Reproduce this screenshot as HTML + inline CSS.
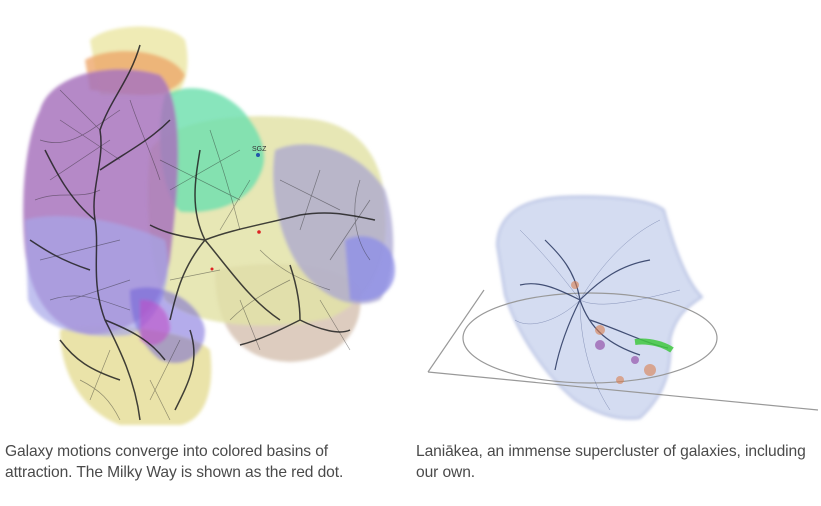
<!DOCTYPE html>
<html><head><meta charset="utf-8"><style>
html,body{margin:0;padding:0;background:#fff;width:821px;height:506px;overflow:hidden;position:relative}
svg{position:absolute;left:0;top:0}
.c{position:absolute;font-family:"Liberation Sans",sans-serif;font-size:15.6px;color:#4a4a4a;line-height:21px;letter-spacing:-0.1px;white-space:nowrap}
</style></head><body>
<svg width="821" height="506" viewBox="0 0 821 506">
<defs><filter id="b"><feGaussianBlur stdDeviation="1.5"/></filter></defs>
<g filter="url(#b)">
<path d="M90,40 C110,22 170,22 185,40 C190,60 188,85 175,95 L100,95 Z" fill="#ece7a8" opacity="0.85"/>
<path d="M85,60 C110,45 170,48 185,75 C180,90 160,95 140,95 L90,90 Z" fill="#eea86a" opacity="0.8"/>
<path d="M60,330 C100,320 190,330 210,350 C215,390 205,420 180,425 L120,425 C80,410 60,370 60,330 Z" fill="#e8e0a0" opacity="0.9"/>
<path d="M215,270 C260,260 340,260 360,290 C365,330 340,360 290,362 C240,360 215,330 215,270 Z" fill="#d9c7b8" opacity="0.9"/>
<path d="M150,150 C170,120 240,112 300,118 C360,120 385,160 385,210 C390,260 370,300 330,318 C280,330 200,330 165,300 C148,260 145,200 150,150 Z" fill="#e3e3a8" opacity="0.85"/>
<path d="M165,95 C190,80 230,90 250,120 C265,140 268,160 260,175 C250,200 220,215 180,212 C160,190 155,130 165,95 Z" fill="#73e0b0" opacity="0.85"/>
<path d="M275,150 C310,135 360,150 385,190 C398,230 395,280 380,300 C355,310 330,300 310,280 C280,250 268,190 275,150 Z" fill="#a9a6d0" opacity="0.75"/>
<path d="M345,240 C365,230 395,240 395,270 C395,295 370,305 350,300 Z" fill="#8f8fe6" opacity="0.8"/>
<path d="M40,110 C50,75 110,60 160,75 C185,100 180,180 170,260 C160,310 140,330 90,335 C55,330 30,300 25,250 C20,200 25,140 40,110 Z" fill="#a874bd" opacity="0.85"/>
<path d="M25,220 C60,210 120,220 165,240 C175,280 160,320 130,335 C90,340 40,330 28,300 Z" fill="#a6a6e8" opacity="0.7"/>
<path d="M130,290 C160,280 200,300 205,330 C205,355 185,370 160,360 C140,345 130,320 130,290 Z" fill="#6a5ad8" opacity="0.5"/>
<path d="M140,300 C155,298 170,310 170,330 C165,345 150,350 140,340 Z" fill="#c050c8" opacity="0.6"/>
<path d="M497,245 C498,215 520,200 560,197 C600,195 650,198 664,210 C672,240 685,280 702,297 C690,305 675,315 670,340 C672,370 665,395 640,418 C615,422 590,410 575,400 C545,375 518,335 505,295 Z" fill="#d0d9f0" stroke="#9aa8d8" stroke-width="1.5" opacity="0.9"/>
</g>
<g stroke="#222" fill="none" stroke-width="1.5" opacity="0.85">
<path d="M140,420 C135,380 120,350 105,320 C90,280 100,250 95,220 C90,190 105,160 100,130 C110,100 130,80 140,45"/>
<path d="M95,220 C70,200 55,170 45,150 M100,170 C130,150 150,140 170,120 M90,270 C60,260 45,250 30,240 M105,320 C130,330 150,340 165,360 M120,380 C90,370 75,360 60,340"/>
<path d="M205,240 C230,230 260,225 300,215 C330,210 350,215 375,220 M205,240 C190,210 195,180 200,150 M205,240 C180,270 175,300 170,320 M205,240 C230,270 250,300 280,320 M205,240 C170,235 160,230 150,225"/>
<path d="M300,320 C280,330 260,340 240,345 M300,320 C320,330 340,335 350,330 M300,320 C300,300 295,280 290,265"/>
<path d="M175,410 C190,380 200,360 190,330"/>
</g>
<g stroke="#222" fill="none" stroke-width="0.7" opacity="0.45">
<path d="M60,120 L120,160 M50,180 L110,140 M40,260 L120,240 M70,300 L130,280 M160,160 L240,200 M170,190 L240,150 M220,270 L170,280 M250,180 L220,230 M320,170 L300,230 M330,260 L370,200 M240,300 L260,350 M320,300 L350,350 M110,350 L90,400 M150,380 L170,420"/>
<path d="M40,140 C70,150 90,130 120,110 M35,200 C60,190 80,200 100,190 M50,300 C80,290 100,300 130,310 M130,100 C140,130 150,150 160,180 M60,90 C80,110 90,120 100,130 M210,130 C220,160 230,190 240,230 M260,250 C280,270 300,280 330,290 M280,180 C300,190 320,200 340,210 M360,180 C350,210 355,240 370,260 M230,320 C250,300 270,290 290,280 M80,380 C100,390 110,400 120,420 M180,340 C170,360 160,380 150,400"/>
</g>
<circle cx="258" cy="155" r="2" fill="#2255aa"/>
<text x="252" y="151" font-family="Liberation Sans" font-size="7" fill="#333">SGZ</text>
<circle cx="259" cy="232" r="1.8" fill="#d22"/>
<circle cx="212" cy="269" r="1.5" fill="#d22"/>
<g stroke="#999" fill="none" stroke-width="1.2">
<path d="M428,372 L484,290"/>
<path d="M428,372 L818,410"/>
<ellipse cx="590" cy="338" rx="127" ry="45"/>
</g>
<g stroke="#1c2a55" fill="none" stroke-width="1.2" opacity="0.8">
<path d="M580,300 C590,330 610,345 640,355 M580,300 C560,290 540,280 520,285 M580,300 C600,280 620,265 650,260 M580,300 C570,320 560,345 555,370 M580,300 C575,270 560,255 545,240 M590,320 C620,330 650,345 668,348"/>
</g>
<g stroke="#3a4a80" fill="none" stroke-width="0.5" opacity="0.5">
<path d="M580,300 C560,320 530,330 515,320 M580,300 C600,310 640,300 680,290 M580,300 C580,340 590,380 610,410 M580,300 C550,260 530,240 520,230 M580,300 C610,250 640,230 660,220"/>
</g>
<g fill="#d97f50" opacity="0.6"><circle cx="575" cy="285" r="4"/><circle cx="600" cy="330" r="5"/><circle cx="650" cy="370" r="6"/><circle cx="620" cy="380" r="4"/></g>
<g fill="#8a3fa0" opacity="0.6"><circle cx="600" cy="345" r="5"/><circle cx="635" cy="360" r="4"/></g>
<path d="M635,342 C650,340 665,345 672,350" stroke="#3fc83f" stroke-width="6" fill="none" opacity="0.85"/>
</svg>
<div class="c" style="left:5px;top:441px">Galaxy motions converge into colored basins of<br>attraction. The Milky Way is shown as the red dot.</div>
<div class="c" style="left:416px;top:441px">Laniākea, an immense supercluster of galaxies, including<br>our own.</div>
</body></html>
